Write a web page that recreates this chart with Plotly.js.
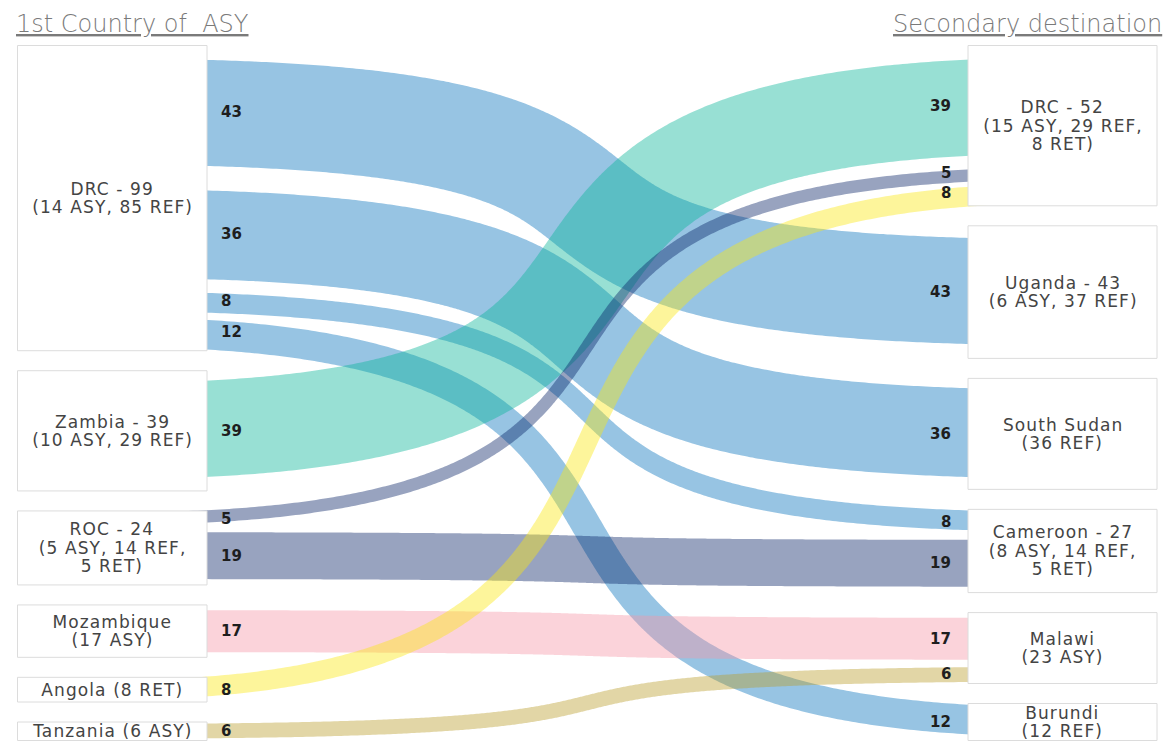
<!DOCTYPE html>
<html><head><meta charset="utf-8">
<script src="https://cdn.plot.ly/plotly-3.0.1.min.js"></script>
<style>html,body{margin:0;padding:0;background:#fff;overflow:hidden;}</style>
</head><body><div id="chart" style="width:1166px;height:742px;"></div>
<script>
// ---------------- data ----------------
const leftNodes = ['DRC', 'Zambia', 'ROC', 'Mozambique', 'Angola', 'Tanzania'];
const leftLabels = [
  ['DRC - 99', '(14 ASY, 85 REF)'],
  ['Zambia - 39', '(10 ASY, 29 REF)'],
  ['ROC - 24', '(5 ASY, 14 REF,', '5 RET)'],
  ['Mozambique', '(17 ASY)'],
  ['Angola (8 RET)'],
  ['Tanzania (6 ASY)']
];
const rightNodes = ['DRC', 'Uganda', 'South Sudan', 'Cameroon', 'Malawi', 'Burundi'];
const rightLabels = [
  ['DRC - 52', '(15 ASY, 29 REF,', '8 RET)'],
  ['Uganda - 43', '(6 ASY, 37 REF)'],
  ['South Sudan', '(36 REF)'],
  ['Cameroon - 27', '(8 ASY, 14 REF,', '5 RET)'],
  ['Malawi', '(23 ASY)'],
  ['Burundi', '(12 REF)']
];
const linkSource = ['DRC', 'DRC', 'DRC', 'DRC', 'Zambia', 'ROC', 'ROC', 'Mozambique', 'Angola', 'Tanzania'];
const linkTarget = ['Uganda', 'South Sudan', 'Cameroon', 'Burundi', 'DRC', 'DRC', 'Cameroon', 'Malawi', 'DRC', 'Malawi'];
const linkValue  = [43, 36, 8, 12, 39, 5, 19, 17, 8, 6];
const leftTitle = '1st Country of  ASY';
const rightTitle = 'Secondary destination';

// ---------------- styles ----------------
const sourceColors = {
  'DRC': 'rgba(7,115,188,0.42)',
  'Zambia': 'rgba(10,181,153,0.42)',
  'ROC': 'rgba(10,36,103,0.42)',
  'Mozambique': 'rgba(245,150,167,0.42)',
  'Angola': 'rgba(250,231,17,0.42)',
  'Tanzania': 'rgba(186,157,43,0.42)'
};
const W = 1166, H = 742;
const TOP = 45.5, BOTTOM = 740.5, GAP = 20, BAND = 0.8, CURVE = 0.76;
const LEFT_BOX = [17.5, 207], RIGHT_BOX = [968, 1157];
const LINE_STEP = 18.5;
const LABEL_FONT = {family: 'DejaVu Sans', size: 17, color: '#444444'};
const VALUE_FONT = {family: 'DejaVu Sans', size: 15, color: '#1e1e1e', weight: 700};
const TITLE_FONT = {family: 'DejaVu Sans', size: 24, color: '#7a7a7a', weight: 200};

// ---------------- layout computation ----------------
function totals(nodes, ends) {
  return nodes.map(n => ends.reduce((s, e, i) => s + (e === n ? linkValue[i] : 0), 0));
}
const leftTot = totals(leftNodes, linkSource);
const rightTot = totals(rightNodes, linkTarget);
const sumL = leftTot.reduce((a, b) => a + b, 0);
const sumR = rightTot.reduce((a, b) => a + b, 0);
const scale = Math.min(
  (BOTTOM - TOP - GAP * (leftNodes.length - 1)) / sumL,
  (BOTTOM - TOP - GAP * (rightNodes.length - 1)) / sumR
);
function tops(tot) {
  const out = []; let y = TOP;
  tot.forEach(v => { out.push(y); y += v * scale + GAP; });
  return out;
}
const leftTop = tops(leftTot), rightTop = tops(rightTot);

const offL = {}, offR = {};
const slotL = [], slotR = [];
linkValue.forEach((v, i) => {
  const s = linkSource[i], t = linkTarget[i];
  const li = leftNodes.indexOf(s), ri = rightNodes.indexOf(t);
  offL[s] = offL[s] || 0; offR[t] = offR[t] || 0;
  slotL.push(leftTop[li] + (offL[s] + v / 2) * scale);
  slotR.push(rightTop[ri] + (offR[t] + v / 2) * scale);
  offL[s] += v; offR[t] += v;
});

// cubic Bezier from left box centre to right box centre
const xc0 = (LEFT_BOX[0] + LEFT_BOX[1]) / 2, xc1 = (RIGHT_BOX[0] + RIGHT_BOX[1]) / 2;
const dx = xc1 - xc0;
const N = 400;
function bez(p0, p1, p2, p3, t) {
  const m = 1 - t;
  return m * m * m * p0 + 3 * m * m * t * p1 + 3 * m * t * t * p2 + t * t * t * p3;
}
const traces = linkValue.map((v, i) => {
  const xs = [], ys = [];
  for (let k = 0; k <= N; k++) {
    const t = k / N;
    xs.push(bez(xc0, xc0 + CURVE * dx, xc1 - CURVE * dx, xc1, t));
    ys.push(bez(slotL[i], slotL[i], slotR[i], slotR[i], t));
  }
  return {
    type: 'scatter', mode: 'lines', x: xs, y: ys,
    line: {color: sourceColors[linkSource[i]], width: BAND * v * scale, simplify: false},
    hoverinfo: 'skip', showlegend: false
  };
});

const shapes = [];
const annotations = [];
function addNodes(nodes, tot, topArr, box, labels) {
  nodes.forEach((n, i) => {
    const y0 = topArr[i], y1 = y0 + tot[i] * scale;
    shapes.push({type: 'rect', xref: 'x', yref: 'y', x0: box[0], x1: box[1], y0: y0, y1: y1,
      fillcolor: '#ffffff', line: {color: '#dcdcdc', width: 1}, layer: 'above'});
    const lines = labels[i], cy = (y0 + y1) / 2;
    lines.forEach((txt, j) => {
      annotations.push({x: (box[0] + box[1]) / 2, y: cy + (j - (lines.length - 1) / 2) * LINE_STEP,
        xref: 'x', yref: 'y', text: txt, showarrow: false, xanchor: 'center', yanchor: 'middle',
        font: LABEL_FONT});
    });
  });
}
addNodes(leftNodes, leftTot, leftTop, LEFT_BOX, leftLabels);
addNodes(rightNodes, rightTot, rightTop, RIGHT_BOX, rightLabels);

linkValue.forEach((v, i) => {
  annotations.push({x: LEFT_BOX[1] + 12, y: slotL[i], xref: 'x', yref: 'y', text: String(v),
    showarrow: false, xanchor: 'left', yanchor: 'middle', font: VALUE_FONT});
  annotations.push({x: RIGHT_BOX[0] - 15, y: slotR[i], xref: 'x', yref: 'y', text: String(v),
    showarrow: false, xanchor: 'right', yanchor: 'middle', font: VALUE_FONT});
});
annotations.push({x: 14, y: 24, xref: 'x', yref: 'y', text: '<u>' + leftTitle + '</u>', showarrow: false,
  xanchor: 'left', yanchor: 'middle', font: TITLE_FONT});
annotations.push({x: 1164, y: 24, xref: 'x', yref: 'y', text: '<u>' + rightTitle + '</u>', showarrow: false,
  xanchor: 'right', yanchor: 'middle', font: TITLE_FONT});

const layout = {
  width: W, height: H, margin: {l: 0, r: 0, t: 0, b: 0},
  paper_bgcolor: '#ffffff', plot_bgcolor: '#ffffff',
  xaxis: {range: [0, W], visible: false, fixedrange: true},
  yaxis: {range: [H, 0], visible: false, fixedrange: true},
  shapes: shapes, annotations: annotations, showlegend: false, hovermode: false
};
Plotly.newPlot('chart', traces, layout, {staticPlot: true, displayModeBar: false}).then(() => {
  const labelSet = new Set([].concat(...leftLabels, ...rightLabels));
  document.querySelectorAll('.annotation-text').forEach(el => {
    if (labelSet.has(el.textContent)) el.style.letterSpacing = '1.1px';
  });
});
</script></body></html>
